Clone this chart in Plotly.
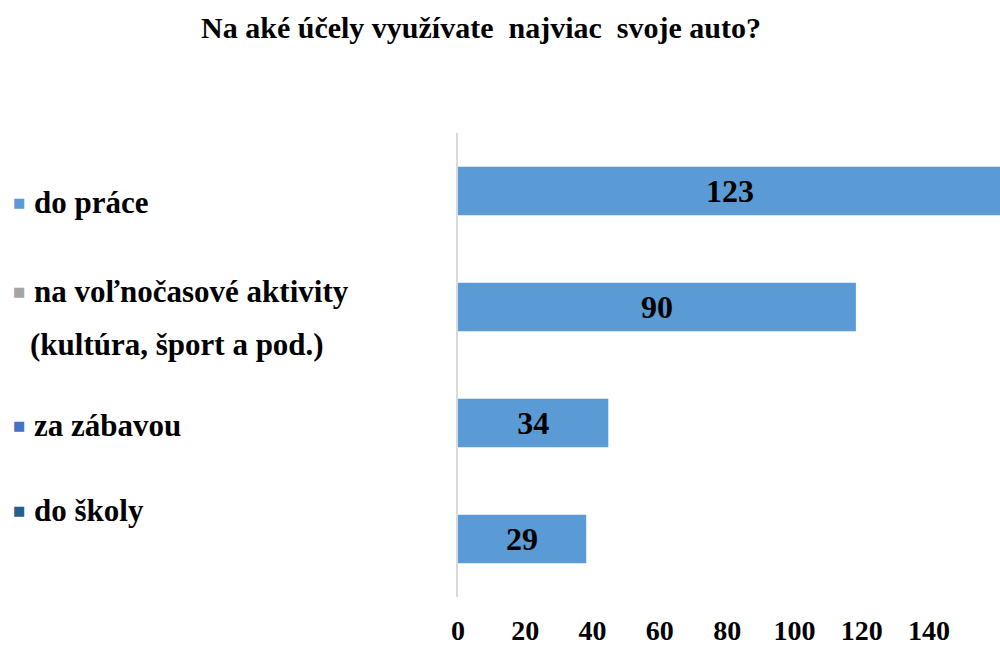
import plotly.graph_objects as go

# data
categories = ["do práce", "na voľnočasové aktivity", "za zábavou", "do školy"]
values = [123, 90, 34, 29]
legend_labels = ["do práce", "na voľnočasové aktivity\n(kultúra, šport a pod.)", "za zábavou", "do školy"]
legend_colors = ["#5B9BD5", "#A5A5A5", "#4472C4", "#255E91"]
tick_values = [0, 20, 40, 60, 80, 100, 120, 140]

FONT = "Liberation Serif, Times New Roman, serif"
W, H = 1000, 649
L, R, T, B = 458, 0, 133, 52
pw = W - L - R


def px_to_paper(px):
    return (px - L) / pw


fig = go.Figure()
fig.add_trace(go.Bar(
    x=values, y=categories, orientation="h",
    marker=dict(color="#5B9BD5", line=dict(width=0)),
    width=0.42,
    text=values, textposition="inside", insidetextanchor="middle",
    textfont=dict(family=FONT, size=32, color="black", weight="bold"),
    cliponaxis=True, hoverinfo="x+y", showlegend=False,
))
# invisible helper so the (differently scaled) tick axis gets drawn
fig.add_trace(go.Scatter(
    x=tick_values[:1], y=categories[:1], xaxis="x2", yaxis="y",
    mode="markers", marker=dict(opacity=0), hoverinfo="skip", showlegend=False,
))

# left-hand labels with coloured squares (offsets from the bar centres)
label_shift = [-11, -11, -2, 29]
line_gap = 53
for cat, lab, col, sh in zip(categories, legend_labels, legend_colors, label_shift):
    lines = lab.split("\n")
    n = len(lines)
    for i, line in enumerate(lines):
        ys = sh - (i - (n - 1) / 2) * line_gap
        fig.add_annotation(
            x=px_to_paper(32 if i == 0 else 28), xref="paper", xanchor="left",
            y=cat, yref="y", yanchor="middle", yshift=ys,
            text=line, showarrow=False,
            font=dict(family=FONT, size=31, color="black", weight="bold"),
        )
        if i == 0:
            fig.add_annotation(
                x=px_to_paper(19), xref="paper", xanchor="center",
                y=cat, yref="y", yanchor="middle", yshift=ys,
                text="■", showarrow=False,
                font=dict(family="DejaVu Sans", size=13, color=col),
            )

fig.update_layout(
    width=W, height=H,
    margin=dict(l=L, r=R, t=T, b=B, pad=0),
    paper_bgcolor="white", plot_bgcolor="white",
    title=dict(
        text="Na aké účely využívate \u00a0najviac \u00a0svoje auto?",
        x=0.481, xanchor="center", y=1 - 27 / H, yanchor="middle",
        font=dict(family=FONT, size=30, color="black", weight="bold"),
    ),
    xaxis=dict(range=[0, 122.6], showgrid=False, zeroline=False,
               showline=False, showticklabels=False, ticks=""),
    xaxis2=dict(range=[0, 161.1], overlaying="x", side="bottom", anchor="y",
                tickvals=tick_values, showgrid=False, zeroline=False,
                showline=False, ticks="outside", ticklen=8, tickcolor="white",
                tickfont=dict(family=FONT, size=28, color="black", weight="bold")),
    yaxis=dict(autorange="reversed", showgrid=False, zeroline=False,
               showline=True, linecolor="#D9D9D9", linewidth=2,
               showticklabels=False, ticks=""),
)

fig.write_html(
    "out.html",
    config={"displayModeBar": False},
    post_script="document.body.style.margin='0';document.body.style.overflow='hidden';",
)
